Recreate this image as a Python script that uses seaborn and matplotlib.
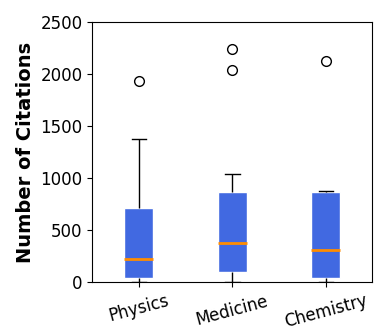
import matplotlib
matplotlib.use("Agg")
import matplotlib.pyplot as plt
import seaborn as sns
import pandas as pd

# citation counts per field
physics = [5, 25, 45, 120, 220, 450, 710, 1375, 1930]
medicine = [3, 40, 70, 95, 180, 300, 372, 500, 700, 870, 1035, 2035, 2237]
chemistry = [0, 20, 45, 150, 305, 600, 870, 878, 2122]
fields = ["Physics", "Medicine", "Chemistry"]

df = pd.DataFrame({
    "Field": ["Physics"] * len(physics) + ["Medicine"] * len(medicine) + ["Chemistry"] * len(chemistry),
    "Citations": physics + medicine + chemistry,
})

fig, ax = plt.subplots(figsize=(3.84, 3.34), dpi=100)
sns.boxplot(data=df, x="Field", y="Citations", order=fields, ax=ax,
            color="royalblue", saturation=1, width=0.31, linecolor="black",
            boxprops={"edgecolor": "white", "linewidth": 1},
            medianprops={"color": "darkorange", "linewidth": 2},
            whiskerprops={"color": "black", "linewidth": 1},
            capprops={"color": "black", "linewidth": 1},
            flierprops={"marker": "o", "markerfacecolor": "none",
                        "markeredgecolor": "black", "markersize": 7})

ax.set_ylim(0, 2500)
ax.set_xlim(-0.5, 2.5)
ax.set_xlabel("")
ax.set_ylabel("Number of Citations", fontsize=14, fontweight="bold")
ax.tick_params(axis="y", labelsize=12)
ax.tick_params(axis="x", labelsize=12, labelrotation=15)

fig.subplots_adjust(left=0.24, right=0.97, bottom=0.155, top=0.935)
fig.savefig("out.png", dpi=100)
